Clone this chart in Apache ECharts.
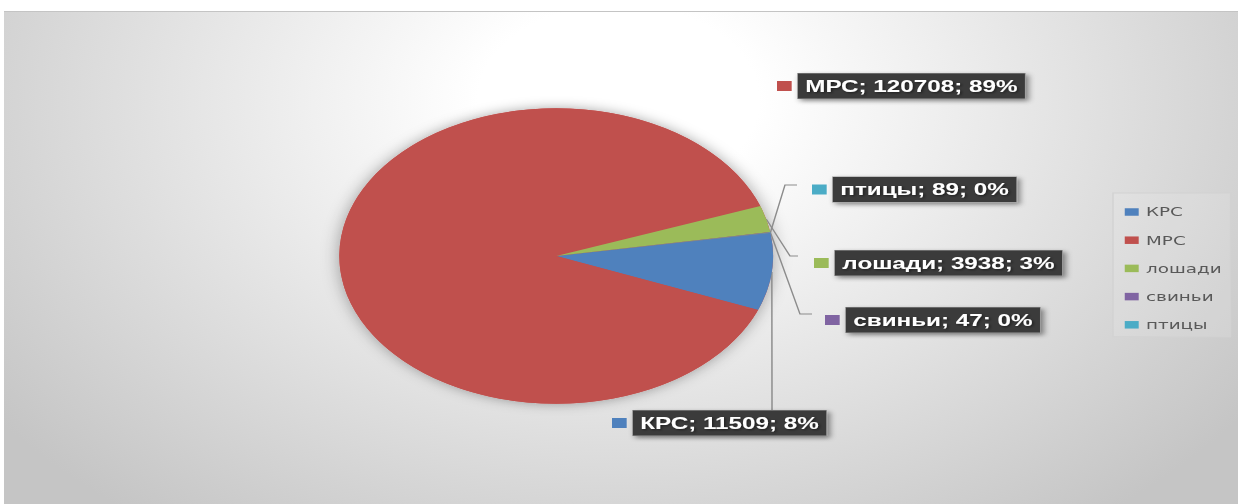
<!DOCTYPE html>
<html>
<head>
<meta charset="utf-8">
<script src="https://cdn.jsdelivr.net/npm/echarts@6/dist/echarts.min.js"></script>
<style>
html,body{margin:0;padding:0;background:#ffffff;overflow:hidden;}
#wrap{position:absolute;left:0;top:0;width:1238px;height:504px;overflow:hidden;}
#c{position:absolute;left:0;top:0;width:843px;height:504px;transform-origin:0 0;}
</style>
</head>
<body>
<div id="wrap"><div id="c"></div></div>
<script>
// ---- data ----
const categories = ['КРС', 'МРС', 'лошади', 'свиньи', 'птицы'];
const values = [11509, 120708, 3938, 47, 89];

// ---- styles / layout (reference pixel coordinates) ----
const colors = ['#4f81bd', '#c0504d', '#9bbb59', '#8064a2', '#4bacc6'];
const W = 843;
const S = 1238 / W;               // horizontal stretch of the original picture
document.getElementById('c').style.transform = 'scaleX(' + S + ')';
const labelAnchor = [[612, 423], [777, 86], [814, 263], [825, 320], [812, 189.5]];
const leaderPts = [[[772, 400], [772, 410]], null, [[790, 256], [798, 256]], [[800, 314], [812, 314]], [[785, 185], [797, 185]]];

const total = values.reduce((a, b) => a + b, 0);
const pieCenter = [556.2 / S, 256];
const pieRadius = 147.7;

const rich = {
  g: {width: 4.3, height: 10, verticalAlign: 'middle'},
  t: {
    fontFamily: 'Liberation Sans', fontWeight: 'bold', fontSize: 16.5, color: '#ffffff',
    backgroundColor: '#3a3a3a', borderColor: '#9a9a9a', borderWidth: 0.6,
    padding: [4, 5, 4, 5], lineHeight: 18, verticalAlign: 'middle',
    shadowColor: 'rgba(0,0,0,0.45)', shadowBlur: 4, shadowOffsetX: 2, shadowOffsetY: 2,
    textShadowColor: 'rgba(0,0,0,0.5)', textShadowBlur: 2, textShadowOffsetX: 1, textShadowOffsetY: 1
  }
};
colors.forEach((c, i) => { rich['m' + i] = {width: 10, height: 10, backgroundColor: c, verticalAlign: 'middle'}; });

const chart = echarts.init(document.getElementById('c'), null, {renderer: 'svg'});
chart.setOption({
  backgroundColor: '#ffffff',
  animation: false,
  color: colors,
  graphic: [{
    type: 'rect', z: -10, silent: true,
    shape: {x: 4 / S, y: 11, width: W, height: 504},
    style: {
      fill: {
        type: 'radial', x: 421, y: 100, r: 530, global: true,
        colorStops: [{offset: 0, color: '#ffffff'}, {offset: 0.18, color: '#ffffff'}, {offset: 1, color: '#c5c5c5'}]
      }
    }
  }, {
    type: 'line', z: -9, silent: true,
    shape: {x1: 4 / S, y1: 11.5, x2: W, y2: 11.5},
    style: {stroke: '#c4c4c4', lineWidth: 1}
  }],
  legend: {
    orient: 'vertical', left: 1113 / S, top: 193,
    padding: [12, 6, 5, 8], itemGap: 14.2, itemWidth: 9.5, itemHeight: 7.5,
    backgroundColor: 'rgba(255,255,255,0.12)', borderColor: '#d2d2d2', borderWidth: 1,
    textStyle: {fontFamily: 'DejaVu Sans', fontSize: 12.5, color: '#595959', lineHeight: 14},
    icon: 'rect',
    data: categories.map((n, i) => ({name: n, icon: 'rect', itemStyle: {color: colors[i], opacity: 1}}))
  },
  series: [
    {
      type: 'pie', name: 'shadow', silent: true, z: 1,
      center: pieCenter, radius: pieRadius,
      label: {show: false}, labelLine: {show: false},
      itemStyle: {color: '#c0504d', shadowBlur: 12, shadowColor: 'rgba(0,0,0,0.35)'},
      data: [{name: '__total', value: total}]
    },
    {
      type: 'pie', name: 'животные', z: 2,
      center: pieCenter, radius: pieRadius,
      startAngle: 9, clockwise: true,
      avoidLabelOverlap: false,
      minAngle: 0,
      itemStyle: {borderWidth: 0},
      emphasis: {disabled: true},
      label: {
        show: true, position: 'outside',
        formatter: p => '{m' + p.dataIndex + '|}{g|}{t|' + p.name + '; ' + p.value + '; ' + Math.round(p.value / total * 100) + '%}',
        rich: rich
      },
      labelLine: {show: true, length: 10, length2: 10, smooth: false, lineStyle: {color: '#8c8c8c', width: 1}},
      labelLayout: function (p) {
        const i = p.dataIndex;
        const a = labelAnchor[i];
        const res = {x: a[0] / S, y: a[1], align: 'left', verticalAlign: 'middle'};
        const lp = leaderPts[i];
        if (lp && p.labelLinePoints) {
          res.labelLinePoints = [p.labelLinePoints[0], [lp[0][0] / S, lp[0][1]], [lp[1][0] / S, lp[1][1]]];
        }
        return res;
      },
      data: categories.map((n, i) => ({
        name: n, value: values[i],
        labelLine: {show: leaderPts[i] !== null}
      }))
    }
  ]
});
</script>
</body>
</html>
